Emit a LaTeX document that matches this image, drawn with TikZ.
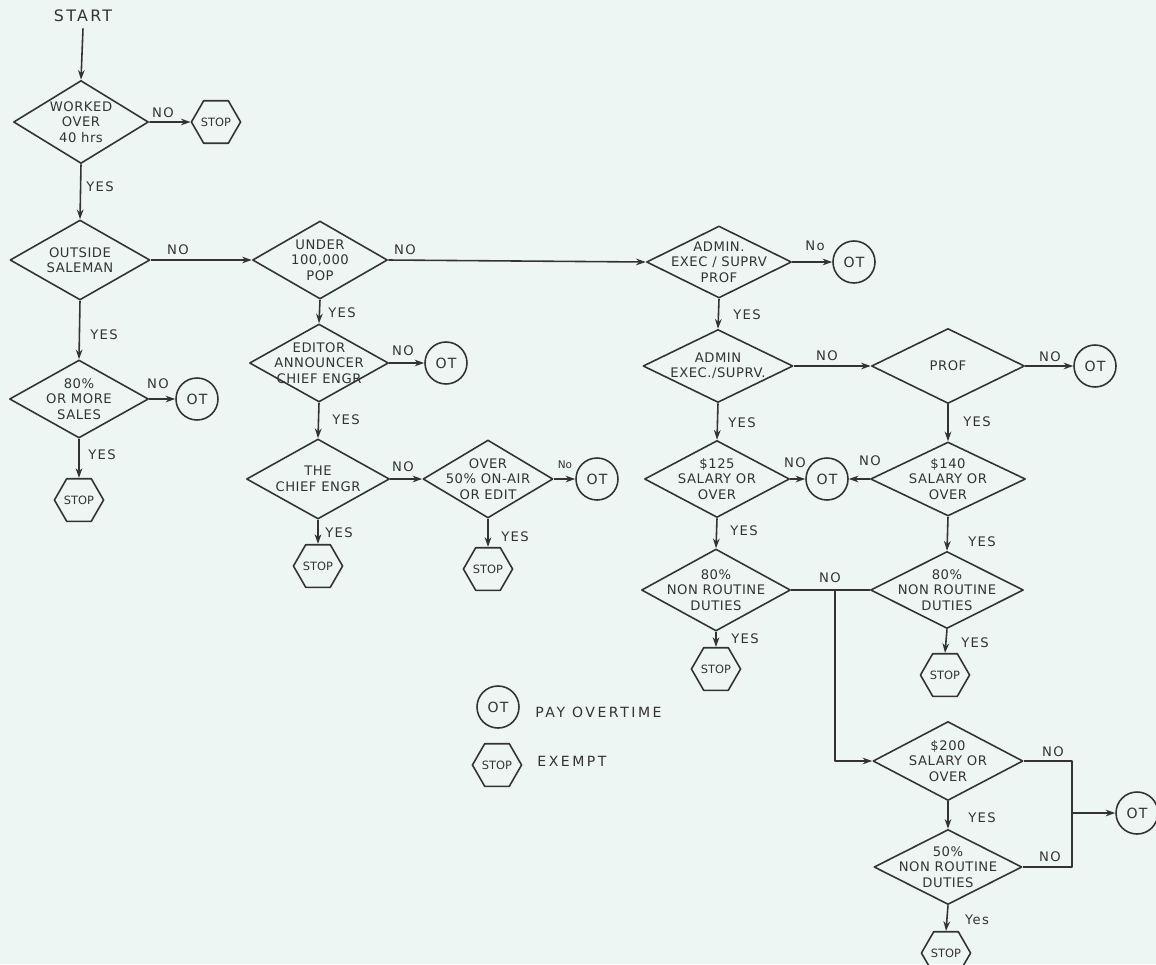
\documentclass[tikz,border=0pt]{standalone}
\usepackage{fontspec}
\setmainfont{DejaVu Sans}
\usetikzlibrary{shapes.geometric,arrows.meta}
\definecolor{bg}{HTML}{EEF6F3}
\definecolor{ink}{HTML}{333333}
\tikzset{
  dia/.style 2 args={diamond, draw=ink, line width=0.9pt, minimum width=#1*0.02cm, minimum height=#2*0.02cm, inner sep=0pt},
  dtext/.style={font=\fontsize{7.5}{8.8}\selectfont\addfontfeatures{LetterSpace=4}, align=center, text=ink, inner sep=0pt},
  lab/.style={font=\fontsize{7.5}{9}\selectfont\addfontfeatures{LetterSpace=10}, text=ink, inner sep=0pt},
  smalllab/.style={font=\fontsize{6}{7}\selectfont, text=ink, inner sep=0pt},
  hexa/.style={regular polygon, regular polygon sides=6, draw=ink, line width=0.9pt, minimum size=0.9cm, inner sep=0pt, font=\fontsize{6.5}{7}\selectfont, text=ink},
  otc/.style={circle, draw=ink, line width=0.9pt, minimum size=0.84cm, inner sep=0pt, font=\fontsize{8}{9}\selectfont\addfontfeatures{LetterSpace=8}, text=ink},
  arr/.style={draw=ink, line width=0.9pt, -{Stealth[length=5.5pt,width=3.8pt]}},
  ln/.style={draw=ink, line width=0.9pt},
  legtext/.style={font=\fontsize{8}{9}\selectfont\addfontfeatures{LetterSpace=18}, text=ink, inner sep=0pt, anchor=west}
}
\newcommand\dnode[5]{\node[dia={#3}{#4}] (#1) at (#2) {};\node[dtext] (#1t) at (#1) {#5};}
\begin{document}
\begin{tikzpicture}[x=0.02cm,y=-0.02cm, line join=round]
\fill[bg] (0,0) rectangle (1156,964);
\useasboundingbox (0,0) rectangle (1156,964);

% start
\node[lab, font=\fontsize{9}{10}\selectfont\addfontfeatures{LetterSpace=15}] (start) at (83,16) {START};
\dnode{d1}{81,122}{135}{83}{WORKED\\OVER\\40 hrs}
\node[hexa] (s1) at (216,122) {STOP};
\dnode{d2}{80,260}{140}{80}{OUTSIDE\\SALEMAN}
\dnode{d3}{79,399}{139}{78}{80\%\\OR MORE\\SALES}
\node[otc] (ot1) at (197,399) {OT};
\node[hexa] (s2) at (79,500) {STOP};

% second column
\dnode{d4}{320,260}{135}{78}{UNDER\\100,000\\POP}
\dnode{d5}{319,363}{139}{78}{EDITOR\\ANNOUNCER\\CHIEF ENGR}
\node[otc] (ot2) at (446,363) {OT};
\dnode{d6}{318,479}{143}{80}{THE\\CHIEF ENGR}
\dnode{d7}{488,479}{130}{78}{OVER\\50\% ON-AIR\\OR EDIT}
\node[otc] (ot3) at (597,479) {OT};
\node[hexa] (s3) at (318,566) {STOP};
\node[hexa] (s4) at (488,569) {STOP};

% third column
\dnode{d8}{719,262}{145}{72}{ADMIN.\\EXEC / SUPRV\\PROF}
\node[otc] (ot4) at (854,262) {OT};
\dnode{d9}{718,366}{150}{73}{ADMIN\\EXEC./SUPRV.}
\dnode{d10}{948,366}{153}{75}{PROF}
\node[otc] (ot5) at (1095,366) {OT};
\dnode{d11}{948,479}{155}{74}{\$140\\SALARY OR\\OVER}
\node[otc] (ot6) at (827,479) {OT};
\dnode{d12}{717,479}{145}{77}{\$125\\SALARY OR\\OVER}
\dnode{d13}{716,590}{149}{82}{80\%\\NON ROUTINE\\DUTIES}
\dnode{d14}{947,590}{153}{77}{80\%\\NON ROUTINE\\DUTIES}
\node[hexa] (s5) at (716,669) {STOP};
\node[hexa] (s6) at (945,675) {STOP};
\dnode{d15}{948,761}{150}{79}{\$200\\SALARY OR\\OVER}
\dnode{d16}{948,867}{148}{75}{50\%\\NON ROUTINE\\DUTIES}
\node[otc] (ot7) at (1137,813) {OT};
\node[hexa] (s7) at (946,953) {STOP};
\coordinate (j1) at (835,590);
\coordinate (j2) at (1072,813);

% legend
\node[otc] (otL) at (498,707) {OT};
\node[legtext] (legot) at (535,712) {PAY OVERTIME};
\node[hexa] (sL) at (497,765) {STOP};
\node[legtext] (legst) at (537,761) {EXEMPT};

% connectors
\draw[arr] (start.south) ++(0,6) -- (d1.north);
\draw[arr] (d1.east) -- (s1.west);
\draw[arr] (d1.south) -- (d2.north);
\draw[arr] (d2.east) -- (d4.west);
\draw[arr] (d2.south) -- (d3.north);
\draw[arr] (d3.east) -- (ot1.west);
\draw[arr] (d3.south) -- (s2.north);
\draw[arr] (d4.east) -- (d8.west);
\draw[arr] (d4.south) -- (d5.north);
\draw[arr] (d5.east) -- (ot2.west);
\draw[arr] (d5.south) -- (d6.north);
\draw[arr] (d6.east) -- (d7.west);
\draw[arr] (d7.east) -- (ot3.west);
\draw[arr] (d6.south) -- (s3.north);
\draw[arr] (d7.south) -- (s4.north);
\draw[arr] (d8.east) -- (ot4.west);
\draw[arr] (d8.south) -- (d9.north);
\draw[arr] (d9.east) -- (d10.west);
\draw[arr] (d10.east) -- (ot5.west);
\draw[arr] (d10.south) -- (d11.north);
\draw[arr] (d11.west) -- (ot6.east);
\draw[arr] (d9.south) -- (d12.north);
\draw[arr] (d12.east) -- (ot6.west);
\draw[arr] (d12.south) -- (d13.north);
\draw[arr] (d11.south) -- (d14.north);
\draw[arr] (d13.south) -- (s5.north);
\draw[arr] (d14.south) -- (s6.north);
\draw[ln] (d13.east) -- (d14.west);
\draw[arr] (j1) |- (d15.west);
\draw[ln] (d15.east) -| (j2);
\draw[ln] (d16.east) -| (j2);
\draw[arr] (j2) -- (ot7.west);
\draw[arr] (d15.south) -- (d16.north);
\draw[arr] (d16.south) -- (s7.north);

% labels
\node[lab] (n1) at (163,113) {NO};
\node[lab] (y1) at (100,187) {YES};
\node[lab] (n2) at (178,250) {NO};
\node[lab] (y2) at (104,335) {YES};
\node[lab] (n3) at (158,384) {NO};
\node[lab] (y3) at (102,455) {YES};
\node[lab] (n4) at (405,250) {NO};
\node[lab] (y4) at (342,313) {YES};
\node[lab] (n5) at (403,351) {NO};
\node[lab] (y5) at (346,420) {YES};
\node[lab] (n6) at (403,467) {NO};
\node[smalllab] (n7) at (565,465) {No};
\node[lab] (y6) at (339,533) {YES};
\node[lab] (y7) at (515,537) {YES};
\node[lab] (n8) at (815,246) {No};
\node[lab] (y8) at (747,315) {YES};
\node[lab] (n9) at (827,356) {NO};
\node[lab] (n10) at (1050,357) {NO};
\node[lab] (y9) at (977,422) {YES};
\node[lab] (y10) at (742,423) {YES};
\node[lab] (n11) at (795,463) {NO};
\node[lab] (n12) at (870,461) {NO};
\node[lab] (y11) at (744,531) {YES};
\node[lab] (y12) at (982,542) {YES};
\node[lab] (n13) at (830,578) {NO};
\node[lab] (y13) at (745,639) {YES};
\node[lab] (y14) at (975,643) {YES};
\node[lab] (n14) at (1053,752) {NO};
\node[lab] (y15) at (982,818) {YES};
\node[lab] (n15) at (1050,857) {NO};
\node[lab] (y16) at (977,920) {Yes};
\end{tikzpicture}
\end{document}
